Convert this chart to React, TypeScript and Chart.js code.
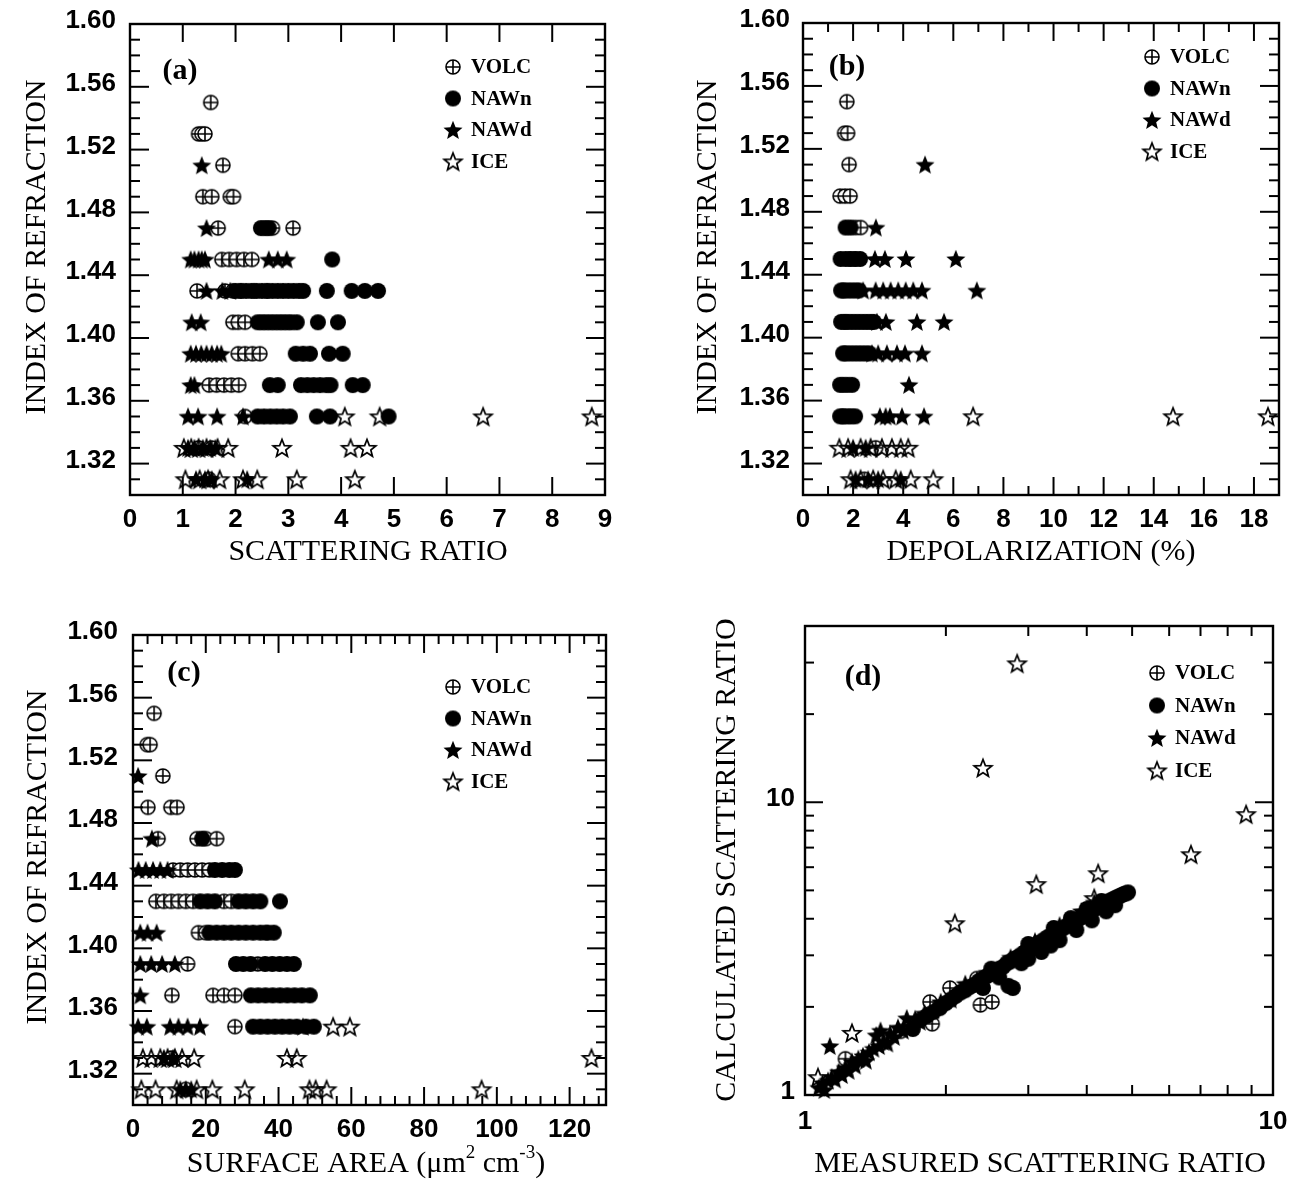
import React, { useEffect, useRef } from 'react';
import { Chart, registerables } from 'chart.js';

Chart.register(...registerables);

type Pt = [number, number];

// ================= DATA =================
// Panel (a): [scattering ratio, index of refraction]
const A_VOLC: Pt[] = [
  [1.53, 1.55],
  [1.30, 1.53], [1.36, 1.53], [1.42, 1.53],
  [1.76, 1.51],
  [1.38, 1.49], [1.55, 1.49], [1.90, 1.49], [1.96, 1.49],
  [1.67, 1.47], [2.70, 1.47], [3.09, 1.47],
  [1.74, 1.45], [1.88, 1.45], [2.02, 1.45], [2.16, 1.45], [2.31, 1.45],
  [1.27, 1.43], [1.80, 1.43], [1.95, 1.43], [2.10, 1.43], [2.35, 1.43], [2.60, 1.43],
  [1.95, 1.41], [2.05, 1.41], [2.18, 1.41],
  [2.05, 1.39], [2.18, 1.39], [2.32, 1.39], [2.46, 1.39],
  [1.50, 1.37], [1.64, 1.37], [1.78, 1.37], [1.92, 1.37], [2.06, 1.37],
  [2.18, 1.35],
  [1.30, 1.33], [1.55, 1.33],
  [1.50, 1.31],
];
const A_NAWN: Pt[] = [
  [2.48, 1.47], [2.56, 1.47], [2.63, 1.47],
  [3.83, 1.45],
  [2.00, 1.43], [2.10, 1.43], [2.20, 1.43], [2.30, 1.43], [2.40, 1.43], [2.50, 1.43], [2.60, 1.43],
  [2.70, 1.43], [2.80, 1.43], [2.90, 1.43], [3.00, 1.43], [3.10, 1.43], [3.20, 1.43], [3.28, 1.43],
  [3.73, 1.43], [4.20, 1.43], [4.45, 1.43], [4.70, 1.43],
  [2.42, 1.41], [2.50, 1.41], [2.58, 1.41], [2.66, 1.41], [2.74, 1.41], [2.82, 1.41], [2.90, 1.41],
  [2.98, 1.41], [3.06, 1.41], [3.16, 1.41], [3.56, 1.41], [3.94, 1.41],
  [3.14, 1.39], [3.28, 1.39], [3.41, 1.39], [3.77, 1.39], [4.03, 1.39],
  [2.65, 1.37], [2.80, 1.37], [3.24, 1.37], [3.36, 1.37], [3.48, 1.37], [3.60, 1.37], [3.72, 1.37],
  [3.80, 1.37], [4.22, 1.37], [4.41, 1.37],
  [2.42, 1.35], [2.54, 1.35], [2.66, 1.35], [2.78, 1.35], [2.90, 1.35], [3.03, 1.35], [3.54, 1.35],
  [3.79, 1.35], [4.90, 1.35],
];
const A_NAWD: Pt[] = [
  [1.36, 1.51],
  [1.45, 1.47],
  [1.15, 1.45], [1.22, 1.45], [1.30, 1.45], [1.36, 1.45], [1.42, 1.45], [2.63, 1.45], [2.80, 1.45], [2.97, 1.45],
  [1.45, 1.43], [1.75, 1.43], [1.90, 1.43],
  [1.17, 1.41], [1.34, 1.41],
  [1.15, 1.39], [1.25, 1.39], [1.35, 1.39], [1.45, 1.39], [1.55, 1.39], [1.65, 1.39], [1.73, 1.39],
  [1.15, 1.37], [1.22, 1.37],
  [1.10, 1.35], [1.29, 1.35], [1.65, 1.35], [2.14, 1.35],
  [1.10, 1.33], [1.22, 1.33], [1.38, 1.33], [1.52, 1.33], [1.62, 1.33],
  [1.25, 1.31], [1.42, 1.31], [1.55, 1.31], [2.22, 1.31],
];
const A_ICE: Pt[] = [
  [4.07, 1.35], [4.73, 1.35], [6.69, 1.35], [8.75, 1.35],
  [1.02, 1.33], [1.16, 1.33], [1.30, 1.33], [1.45, 1.33], [1.66, 1.33], [1.86, 1.33], [2.88, 1.33],
  [4.18, 1.33], [4.49, 1.33],
  [1.05, 1.31], [1.32, 1.31], [1.48, 1.31], [1.70, 1.31], [2.14, 1.31], [2.41, 1.31], [3.16, 1.31],
  [4.26, 1.31],
];

// Panel (b): [depolarization %, index of refraction]
const B_VOLC: Pt[] = [
  [1.75, 1.55],
  [1.66, 1.53], [1.78, 1.53],
  [1.84, 1.51],
  [1.48, 1.49], [1.68, 1.49], [1.88, 1.49],
  [2.10, 1.47], [2.30, 1.47],
  [1.85, 1.45], [2.05, 1.45],
  [1.60, 1.43],
  [1.70, 1.41],
  [1.65, 1.39],
  [1.60, 1.35],
  [2.90, 1.33],
  [2.45, 1.31],
];
const B_NAWN: Pt[] = [
  [1.70, 1.47], [1.90, 1.47],
  [1.50, 1.45], [1.70, 1.45], [1.90, 1.45], [2.10, 1.45], [2.28, 1.45],
  [1.52, 1.43], [1.65, 1.43], [1.80, 1.43], [1.95, 1.43], [2.10, 1.43], [2.24, 1.43],
  [1.52, 1.41], [1.65, 1.41], [1.80, 1.41], [1.95, 1.41], [2.10, 1.41], [2.25, 1.41], [2.40, 1.41],
  [2.55, 1.41], [2.70, 1.41], [2.83, 1.41],
  [1.60, 1.39], [1.75, 1.39], [1.90, 1.39], [2.05, 1.39], [2.20, 1.39], [2.35, 1.39], [2.50, 1.39], [2.65, 1.39],
  [1.48, 1.37], [1.62, 1.37], [1.78, 1.37], [1.96, 1.37],
  [1.48, 1.35], [1.62, 1.35], [1.78, 1.35], [1.92, 1.35], [2.08, 1.35],
];
const B_NAWD: Pt[] = [
  [4.87, 1.51],
  [2.91, 1.47],
  [2.87, 1.45], [3.27, 1.45], [4.11, 1.45], [6.10, 1.45],
  [2.40, 1.43], [2.90, 1.43], [3.20, 1.43], [3.50, 1.43], [3.80, 1.43], [4.10, 1.43], [4.40, 1.43],
  [4.75, 1.43], [6.94, 1.43],
  [2.95, 1.41], [3.31, 1.41], [4.55, 1.41], [5.63, 1.41],
  [2.75, 1.39], [3.00, 1.39], [3.35, 1.39], [3.75, 1.39], [4.07, 1.39], [4.75, 1.39],
  [4.23, 1.37],
  [3.07, 1.35], [3.30, 1.35], [3.47, 1.35], [3.95, 1.35], [4.83, 1.35],
  [2.00, 1.33], [2.50, 1.33],
  [2.10, 1.31], [2.60, 1.31], [3.00, 1.31], [3.90, 1.31],
];
const B_ICE: Pt[] = [
  [6.79, 1.35], [14.77, 1.35], [18.56, 1.35],
  [1.45, 1.33], [1.80, 1.33], [2.30, 1.33], [2.70, 1.33], [3.15, 1.33], [3.55, 1.33], [3.90, 1.33], [4.20, 1.33],
  [1.90, 1.31], [2.30, 1.31], [2.80, 1.31], [3.20, 1.31], [3.70, 1.31], [4.30, 1.31], [5.20, 1.31],
];

// Panel (c): [surface area, index of refraction]
const C_VOLC: Pt[] = [
  [5.8, 1.55],
  [3.9, 1.53], [4.7, 1.53],
  [8.2, 1.51],
  [4.1, 1.49], [10.4, 1.49], [12.1, 1.49],
  [6.9, 1.47], [17.6, 1.47], [20.0, 1.47], [23.0, 1.47],
  [11.0, 1.45], [13.0, 1.45], [15.0, 1.45], [17.0, 1.45], [19.0, 1.45], [21.0, 1.45],
  [6.3, 1.43], [8.5, 1.43], [10.5, 1.43], [12.5, 1.43], [14.5, 1.43], [16.5, 1.43], [25.0, 1.43], [27.0, 1.43],
  [18.0, 1.41], [20.0, 1.41], [36.5, 1.41],
  [15.0, 1.39], [34.3, 1.39],
  [10.7, 1.37], [22.0, 1.37], [25.0, 1.37], [28.0, 1.37],
  [28.0, 1.35],
  [10.5, 1.33],
  [14.5, 1.31],
];
const C_NAWN: Pt[] = [
  [19.0, 1.47],
  [22.5, 1.45], [24.5, 1.45], [26.5, 1.45], [28.0, 1.45],
  [18.5, 1.43], [20.5, 1.43], [22.5, 1.43], [29.0, 1.43], [31.0, 1.43], [33.0, 1.43], [35.0, 1.43], [40.4, 1.43],
  [21.0, 1.41], [23.0, 1.41], [25.0, 1.41], [27.0, 1.41], [29.0, 1.41], [31.0, 1.41], [33.0, 1.41],
  [35.0, 1.41], [37.0, 1.41], [38.7, 1.41],
  [28.3, 1.39], [30.3, 1.39], [32.3, 1.39], [36.3, 1.39], [38.3, 1.39], [40.3, 1.39], [42.3, 1.39], [44.2, 1.39],
  [32.4, 1.37], [34.4, 1.37], [36.4, 1.37], [38.4, 1.37], [40.4, 1.37], [42.4, 1.37], [44.4, 1.37],
  [46.4, 1.37], [48.6, 1.37],
  [33.0, 1.35], [35.0, 1.35], [37.0, 1.35], [39.0, 1.35], [41.0, 1.35], [43.0, 1.35], [45.0, 1.35],
  [47.5, 1.35], [49.7, 1.35],
];
const C_NAWD: Pt[] = [
  [1.4, 1.51],
  [5.2, 1.47],
  [1.5, 1.45], [3.5, 1.45], [5.5, 1.45], [7.5, 1.45], [9.5, 1.45],
  [2.0, 1.41], [4.0, 1.41], [6.5, 1.41],
  [2.0, 1.39], [5.0, 1.39], [8.0, 1.39], [11.5, 1.39],
  [2.0, 1.37],
  [1.4, 1.35], [3.8, 1.35], [10.2, 1.35], [12.5, 1.35], [15.0, 1.35], [18.4, 1.35], [46.7, 1.35],
  [8.5, 1.33], [11.0, 1.33],
  [13.0, 1.31], [14.5, 1.31], [16.0, 1.31],
];
const C_ICE: Pt[] = [
  [55.0, 1.35], [59.6, 1.35],
  [2.7, 1.33], [5.0, 1.33], [7.5, 1.33], [9.5, 1.33], [11.5, 1.33], [13.5, 1.33], [16.8, 1.33],
  [42.3, 1.33], [45.0, 1.33], [126.0, 1.33],
  [2.3, 1.31], [6.2, 1.31], [12.0, 1.31], [17.5, 1.31], [21.8, 1.31], [30.7, 1.31], [48.5, 1.31],
  [50.2, 1.31], [53.2, 1.31], [95.8, 1.31],
];

// Panel (d): [measured scattering ratio, calculated scattering ratio]
const D_VOLC: Pt[] = [
  [1.22, 1.33], [1.60, 1.65], [1.85, 2.08], [1.87, 1.75], [1.95, 2.00], [2.04, 2.32], [2.15, 2.25],
  [2.33, 2.50], [2.37, 2.03], [2.51, 2.08],
];
const D_NAWN: Pt[] = [
  [1.70, 1.68], [1.76, 1.80], [1.82, 1.86], [1.88, 1.92], [1.94, 1.98], [2.00, 2.06], [2.05, 2.12],
  [2.10, 2.18], [2.15, 2.24], [2.20, 2.28], [2.25, 2.34], [2.30, 2.38], [2.35, 2.45], [2.40, 2.50],
  [2.45, 2.55], [2.50, 2.60], [2.55, 2.66], [2.60, 2.70], [2.65, 2.74], [2.70, 2.82], [2.72, 2.36],
  [2.78, 2.32], [2.75, 2.86], [2.80, 2.92], [2.85, 2.96], [2.90, 3.02], [2.95, 3.08], [3.00, 3.14],
  [3.05, 3.18], [3.10, 3.24], [3.15, 3.30], [3.20, 3.34], [3.25, 3.40], [3.30, 3.46], [3.35, 3.50],
  [3.40, 3.56], [3.45, 3.60], [3.50, 3.66], [3.55, 3.70], [3.60, 3.76], [3.65, 3.80], [3.70, 3.86],
  [3.75, 3.90], [3.80, 3.96], [3.85, 4.00], [3.90, 4.06], [3.95, 4.10], [4.00, 4.16], [4.05, 4.22],
  [4.10, 4.26], [4.15, 4.32], [4.20, 4.36], [4.25, 4.42], [4.30, 4.46], [4.35, 4.50], [4.40, 4.54],
  [4.45, 4.58], [4.50, 4.62], [4.55, 4.66], [4.60, 4.70], [4.65, 4.74], [4.70, 4.78], [4.75, 4.82],
  [4.80, 4.86], [4.85, 4.88], [4.90, 4.92],
  [2.40, 2.32], [2.60, 2.52], [2.90, 2.82], [3.00, 2.92], [3.20, 3.08], [3.35, 3.24], [3.50, 3.38],
  [3.80, 3.66], [4.10, 3.95], [4.40, 4.24], [4.60, 4.45],
  [2.50, 2.70], [3.00, 3.28], [3.40, 3.72], [3.70, 4.02], [4.00, 4.32], [4.30, 4.60],
];
const D_NAWD: Pt[] = [
  [1.07, 1.06], [1.09, 1.10], [1.10, 1.04], [1.12, 1.12], [1.13, 1.47], [1.14, 1.15], [1.16, 1.13],
  [1.18, 1.20], [1.20, 1.17], [1.22, 1.24], [1.24, 1.21], [1.26, 1.30], [1.28, 1.26], [1.30, 1.33],
  [1.33, 1.36], [1.35, 1.31], [1.37, 1.40], [1.40, 1.44], [1.42, 1.60], [1.44, 1.47], [1.45, 1.66],
  [1.47, 1.52], [1.50, 1.50], [1.52, 1.62], [1.55, 1.58], [1.58, 1.70], [1.62, 1.66], [1.65, 1.83],
  [1.68, 1.72], [1.72, 1.82], [1.76, 1.78], [1.80, 1.90], [1.88, 1.95], [1.95, 2.08], [2.05, 2.12],
  [2.20, 2.40], [2.45, 2.62], [2.75, 2.95], [3.10, 3.35], [3.50, 3.80], [3.90, 4.25], [4.15, 4.55],
];
const D_ICE: Pt[] = [
  [2.84, 29.8], [2.40, 13.1], [8.76, 9.1], [6.68, 6.64], [4.23, 5.72], [3.12, 5.25], [2.09, 3.86],
  [4.15, 4.70], [1.26, 1.63], [1.066, 1.15],
];

const SERIES_NAMES = ['VOLC', 'NAWn', 'NAWd', 'ICE'];

// ================= TICKS =================
const RI_TICKS = [1.32, 1.36, 1.40, 1.44, 1.48, 1.52, 1.56, 1.60];
const RI_MINOR = [1.31, 1.33, 1.34, 1.35, 1.37, 1.38, 1.39, 1.41, 1.42, 1.43, 1.45, 1.46, 1.47,
  1.49, 1.50, 1.51, 1.53, 1.54, 1.55, 1.57, 1.58, 1.59];
const SR_TICKS = [0, 1, 2, 3, 4, 5, 6, 7, 8, 9];
const DEP_TICKS = [0, 2, 4, 6, 8, 10, 12, 14, 16, 18];
const DEP_MINOR = [1, 3, 5, 7, 9, 11, 13, 15, 17];
const SA_TICKS = [0, 20, 40, 60, 80, 100, 120];
const SA_MINOR = [4, 8, 12, 16, 24, 28, 32, 36, 44, 48, 52, 56, 64, 68, 72, 76, 84, 88, 92, 96,
  104, 108, 112, 116, 124, 128];
const LOG_TICKS = [1, 10];
const LOG_X_MINOR = [2, 3, 4, 5, 6, 7, 8, 9];
const LOG_Y_MINOR = [2, 3, 4, 5, 6, 7, 8, 9, 20, 30];

// ================= LAYOUT =================
type PanelDef = {
  id: string;
  label: string;
  box: number[];
  plot: number[];
  xType: string; xMin: number; xMax: number; xTicks: number[]; xMinor: number[]; xDec: number;
  yType: string; yMin: number; yMax: number; yTicks: number[]; yMinor: number[]; yDec: number;
  xTitle: string; yTitle: string; xTitlePos: number[]; yTitlePos: number[];
  labelPos: number[]; legend: number[];
  xPad: number; yPad: number; xMajLen: number; xMinLen: number; yMajLen: number; yMinLen: number;
  series: Pt[][];
};

const PANELS: PanelDef[] = [
  {
    id: 'a', label: '(a)', box: [0, 0, 645, 590], plot: [130, 605, 24, 495],
    xType: 'linear', xMin: 0, xMax: 9, xTicks: SR_TICKS, xMinor: [], xDec: 0,
    yType: 'linear', yMin: 1.30, yMax: 1.60, yTicks: RI_TICKS, yMinor: RI_MINOR, yDec: 2,
    xTitle: 'SCATTERING RATIO', yTitle: 'INDEX OF REFRACTION', xTitlePos: [368, 552], yTitlePos: [37, 247],
    labelPos: [180, 71], legend: [453, 67, 31.5],
    xPad: 9, yPad: 14, xMajLen: 18, xMinLen: 9, yMajLen: 19, yMinLen: 10,
    series: [A_VOLC, A_NAWN, A_NAWD, A_ICE],
  },
  {
    id: 'b', label: '(b)', box: [645, 0, 645, 590], plot: [803, 1279, 23, 495],
    xType: 'linear', xMin: 0, xMax: 19, xTicks: DEP_TICKS, xMinor: DEP_MINOR, xDec: 0,
    yType: 'linear', yMin: 1.30, yMax: 1.60, yTicks: RI_TICKS, yMinor: RI_MINOR, yDec: 2,
    xTitle: 'DEPOLARIZATION (%)', yTitle: 'INDEX OF REFRACTION', xTitlePos: [1041, 552], yTitlePos: [708, 247],
    labelPos: [847, 67], legend: [1152, 57, 31.5],
    xPad: 9, yPad: 13, xMajLen: 18, xMinLen: 9, yMajLen: 19, yMinLen: 10,
    series: [B_VOLC, B_NAWN, B_NAWD, B_ICE],
  },
  {
    id: 'c', label: '(c)', box: [0, 590, 645, 589], plot: [133, 606, 635, 1105],
    xType: 'linear', xMin: 0, xMax: 130, xTicks: SA_TICKS, xMinor: SA_MINOR, xDec: 0,
    yType: 'linear', yMin: 1.30, yMax: 1.60, yTicks: RI_TICKS, yMinor: RI_MINOR, yDec: 2,
    xTitle: 'SURFACE AREA', yTitle: 'INDEX OF REFRACTION', xTitlePos: [366, 1164], yTitlePos: [38, 857],
    labelPos: [184, 673], legend: [453, 687, 31.5],
    xPad: 9, yPad: 15, xMajLen: 18, xMinLen: 9, yMajLen: 19, yMinLen: 10,
    series: [C_VOLC, C_NAWN, C_NAWD, C_ICE],
  },
  {
    id: 'd', label: '(d)', box: [645, 590, 645, 589], plot: [805, 1273, 626, 1095],
    xType: 'logarithmic', xMin: 1, xMax: 10, xTicks: LOG_TICKS, xMinor: LOG_X_MINOR, xDec: 0,
    yType: 'logarithmic', yMin: 1, yMax: 40, yTicks: LOG_TICKS, yMinor: LOG_Y_MINOR, yDec: 0,
    xTitle: 'MEASURED SCATTERING RATIO', yTitle: 'CALCULATED SCATTERING RATIO', xTitlePos: [1040, 1164],
    yTitlePos: [727, 860],
    labelPos: [863, 677], legend: [1157, 673, 32.5],
    xPad: 11, yPad: 10, xMajLen: 18, xMinLen: 10, yMajLen: 18, yMinLen: 9,
    series: [D_VOLC, D_NAWN, D_NAWD, D_ICE],
  },
];

// ================= MARKERS =================
function starPath(g: CanvasRenderingContext2D, cx: number, cy: number, R: number, r: number) {
  g.beginPath();
  for (let i = 0; i < 10; i++) {
    const ang = -Math.PI / 2 + (i * Math.PI) / 5;
    const rad = i % 2 === 0 ? R : r;
    const px = cx + rad * Math.cos(ang);
    const py = cy + rad * Math.sin(ang);
    if (i === 0) g.moveTo(px, py); else g.lineTo(px, py);
  }
  g.closePath();
}

let MARKERS: HTMLCanvasElement[] | null = null;
function getMarkers(): HTMLCanvasElement[] {
  if (MARKERS) return MARKERS;
  const out: HTMLCanvasElement[] = [];
  for (let k = 0; k < 4; k++) {
    const c = document.createElement('canvas');
    const s = 24;
    c.width = s; c.height = s;
    const g = c.getContext('2d')!;
    const m = s / 2;
    g.strokeStyle = '#000';
    g.fillStyle = '#000';
    if (k === 0) {
      g.lineWidth = 1.6;
      g.beginPath(); g.arc(m, m, 7, 0, Math.PI * 2);
      g.fillStyle = '#fff'; g.fill(); g.stroke();
      g.beginPath();
      g.moveTo(m - 7, m); g.lineTo(m + 7, m);
      g.moveTo(m, m - 7); g.lineTo(m, m + 7);
      g.stroke();
    } else if (k === 1) {
      g.beginPath(); g.arc(m, m, 8, 0, Math.PI * 2); g.fill();
    } else if (k === 2) {
      starPath(g, m, m + 0.8, 10, 4.4); g.fill();
    } else {
      g.lineWidth = 1.7;
      starPath(g, m, m + 0.8, 9.3, 4.0); g.stroke();
    }
    out.push(c);
  }
  MARKERS = out;
  return out;
}

// ================= DECORATION PLUGIN =================
const TITLE_FONT = '30px "Liberation Serif", "Times New Roman", serif';
const SUP_FONT = '19px "Liberation Serif", "Times New Roman", serif';

function makeDecor(p: PanelDef) {
  return {
    id: 'decor_' + p.id,
    afterDraw(chart: any) {
      const { ctx, chartArea: ca, scales } = chart;
      const sx = scales.x;
      const sy = scales.y;
      const ox = p.box[0];
      const oy = p.box[1];
      ctx.save();
      ctx.strokeStyle = '#000';
      ctx.fillStyle = '#000';
      const seg = (x1: number, y1: number, x2: number, y2: number) => {
        ctx.beginPath(); ctx.moveTo(x1, y1); ctx.lineTo(x2, y2); ctx.stroke();
      };
      ctx.lineWidth = 2;
      const xt = (vals: number[], len: number) => vals.forEach((v) => {
        const px = sx.getPixelForValue(v);
        seg(px, ca.bottom, px, ca.bottom - len);
        seg(px, ca.top, px, ca.top + len);
      });
      const yt = (vals: number[], len: number) => vals.forEach((v) => {
        const py = sy.getPixelForValue(v);
        seg(ca.left, py, ca.left + len, py);
        seg(ca.right, py, ca.right - len, py);
      });
      xt(p.xTicks, p.xMajLen);
      xt(p.xMinor, p.xMinLen);
      yt(p.yTicks, p.yMajLen);
      yt(p.yMinor, p.yMinLen);
      ctx.lineWidth = 2.4;
      ctx.strokeRect(ca.left, ca.top, ca.right - ca.left, ca.bottom - ca.top);

      // panel label
      ctx.font = 'bold 30px "Liberation Serif", "Times New Roman", serif';
      ctx.textAlign = 'center';
      ctx.textBaseline = 'middle';
      ctx.fillText(p.label, p.labelPos[0] - ox, p.labelPos[1] - oy);

      // legend
      const M = getMarkers();
      ctx.font = 'bold 21px "Liberation Serif", "Times New Roman", serif';
      ctx.textAlign = 'left';
      SERIES_NAMES.forEach((name, i) => {
        const lx = p.legend[0] - ox;
        const ly = p.legend[1] - oy + i * p.legend[2];
        const im = M[i];
        ctx.drawImage(im, lx - im.width / 2, ly - im.height / 2);
        ctx.fillText(name, lx + 18, ly + 1);
      });

      // x title
      ctx.textBaseline = 'middle';
      const tx = p.xTitlePos[0] - ox;
      const ty = p.xTitlePos[1] - oy;
      if (p.id === 'c') {
        const parts: [string, string, number][] = [
          ['SURFACE AREA (\u03bcm', TITLE_FONT, 0],
          ['2', SUP_FONT, -11],
          [' cm', TITLE_FONT, 0],
          ['-3', SUP_FONT, -11],
          [')', TITLE_FONT, 0],
        ];
        let total = 0;
        const widths = parts.map(([t, f]) => { ctx.font = f; const w = ctx.measureText(t).width; total += w; return w; });
        let cx = tx - total / 2;
        ctx.textAlign = 'left';
        parts.forEach(([t, f, dy], i) => {
          ctx.font = f;
          ctx.fillText(t, cx, ty + dy);
          cx += widths[i];
        });
      } else {
        ctx.font = TITLE_FONT;
        ctx.textAlign = 'center';
        ctx.fillText(p.xTitle, tx, ty);
      }
      // y title
      ctx.save();
      ctx.font = TITLE_FONT;
      ctx.textAlign = 'center';
      ctx.translate(p.yTitlePos[0] - ox, p.yTitlePos[1] - oy);
      ctx.rotate(-Math.PI / 2);
      ctx.fillText(p.yTitle, 0, 0);
      ctx.restore();

      ctx.restore();
    },
  };
}

// ================= CHART =================
function buildChart(canvas: HTMLCanvasElement, p: PanelDef) {
  const [bx, by, bw, bh] = p.box;
  const [pl, pr, pt, pb] = p.plot;
  const yAxisW = pl - bx;
  const padTop = pt - by;
  const padRight = bx + bw - pr;
  const xAxisH = by + bh - pb;
  const M = getMarkers();
  const datasets = p.series.map((pts, i) => ({
    label: SERIES_NAMES[i],
    data: pts.map(([x, y]) => ({ x, y })),
    pointStyle: M[i],
    pointRadius: 8,
    pointHoverRadius: 8,
    order: 3 - i,
    clip: false,
    showLine: false,
  }));
  const tickFont = { family: '"Liberation Sans", Arial, sans-serif', size: 26, weight: 'bold' };
  const zeroPad = (s: any) => {
    s.paddingTop = 0; s.paddingBottom = 0; s.paddingLeft = 0; s.paddingRight = 0;
  };
  return new Chart(canvas, {
    type: 'scatter',
    data: { datasets } as any,
    options: {
      animation: false,
      responsive: false,
      maintainAspectRatio: false,
      devicePixelRatio: 1,
      events: [],
      layout: { padding: { left: 0, top: padTop, right: padRight, bottom: 0 } },
      plugins: { legend: { display: false }, tooltip: { enabled: false } },
      scales: {
        x: {
          type: p.xType as any,
          position: 'bottom',
          min: p.xMin,
          max: p.xMax,
          grid: { display: false, drawTicks: false },
          border: { display: false },
          ticks: {
            color: '#000', font: tickFont as any, padding: p.xPad, maxRotation: 0, minRotation: 0,
            autoSkip: false, callback: (v: any) => Number(v).toFixed(p.xDec),
          },
          afterBuildTicks: (s: any) => { s.ticks = p.xTicks.map((v) => ({ value: v })); },
          afterFit: (s: any) => { s.height = xAxisH; zeroPad(s); },
        },
        y: {
          type: p.yType as any,
          position: 'left',
          min: p.yMin,
          max: p.yMax,
          grid: { display: false, drawTicks: false },
          border: { display: false },
          ticks: {
            color: '#000', font: tickFont as any, padding: p.yPad, labelOffset: -3,
            autoSkip: false, callback: (v: any) => Number(v).toFixed(p.yDec),
          },
          afterBuildTicks: (s: any) => { s.ticks = p.yTicks.map((v) => ({ value: v })); },
          afterFit: (s: any) => { s.width = yAxisW; zeroPad(s); },
        },
      },
    } as any,
    plugins: [makeDecor(p)],
  });
}

function Panel({ def }: { def: PanelDef }) {
  const ref = useRef<HTMLCanvasElement>(null);
  useEffect(() => {
    const chart = buildChart(ref.current!, def);
    return () => chart.destroy();
  }, [def]);
  return (
    <div style={{ position: 'absolute', left: def.box[0], top: def.box[1], width: def.box[2], height: def.box[3] }}>
      <canvas ref={ref} width={def.box[2]} height={def.box[3]} style={{ display: 'block' }} />
    </div>
  );
}

export default function App() {
  return (
    <div style={{ position: 'absolute', left: 0, top: 0, width: 1290, height: 1179, background: '#fff' }}>
      {PANELS.map((p) => <Panel key={p.id} def={p} />)}
    </div>
  );
}
